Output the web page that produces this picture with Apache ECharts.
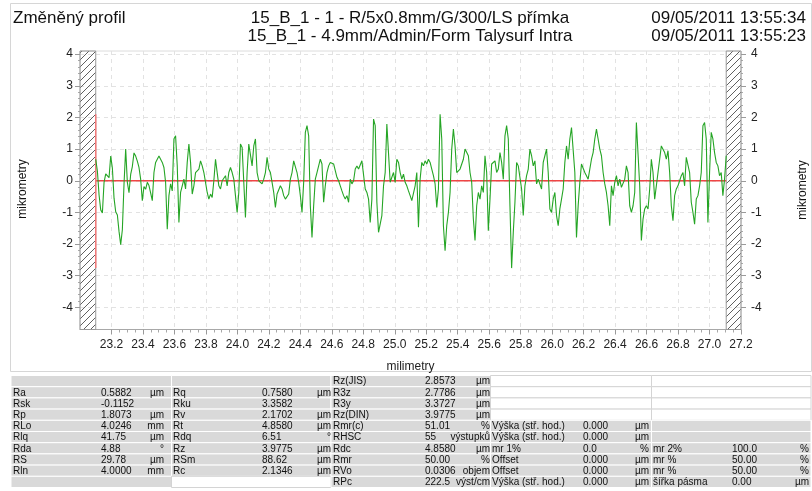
<!DOCTYPE html>
<html>
<head>
<meta charset="utf-8">
<title>Změněný profil</title>
<script src="https://cdn.jsdelivr.net/npm/echarts@6/dist/echarts.min.js"></script>
<style>
  html, body { margin: 0; padding: 0; background: #fff; }
  #chart { width: 812px; height: 491px; }
</style>
</head>
<body>
<div id="chart"></div>
<script>
// ---- Header ----
const headerLeft = 'Změněný profil';
const headerTitles = ['15_B_1 - 1 - R/5x0.8mm/G/300/LS přímka', '15_B_1 - 4.9mm/Admin/Form Talysurf Intra'];
const headerDates = ['09/05/2011 13:55:34', '09/05/2011 13:55:23'];

// ---- Axes ----
const xName = 'milimetry';
const yName = 'mikrometry';
const xRange = [23.0, 27.2];      // evaluated length incl. hatched run-in / run-out
const xLabelRange = [23.2, 27.2]; // labelled part of the x axis
const xStep = 0.2;
const yRange = [-4.7, 4.1];
const yLabelRange = [-4, 4];
const yStep = 1;

// ---- Profile (µm), sampled every PROFILE_STEP mm from PROFILE_START ----
const PROFILE_START = 23.1;
const PROFILE_STEP = 0.01057;
const profileFirstHalf = [
  0.68, 0.30, -0.45, -0.92, -1.02, -0.05, 0.22, 0.26, 0.10, 0.78,
  0.40, -0.55, -0.98, -1.08, -1.60, -2.02, -1.55, -0.10, 1.00, -0.05,
  -0.38, 0.20, 0.45, 0.88, 0.78, 0.62, 0.42, 0.05, -0.63, -0.18,
  -0.27, -0.05, -0.15, -0.38, -0.63, 0.26, 0.58, 0.68, 0.78, 0.84,
  0.58, 0.42, -0.05, -1.53, -0.47, -0.10, -0.32, 1.32, 1.42, 0.47,
  -1.32, -0.37, -0.16, 0.05, -0.26, 0.58, 1.16, 0.58, -0.42, -0.16,
  0.26, 0.32, 0.37, 0.63, 0.47, 0.26, -0.05, -0.37, -0.58, -0.42,
  -0.53, 0.00, 0.68, 0.70, -0.16, -0.26, 0.00, 0.05, 0.16, -0.16,
  0.26, 0.42, 0.26, 0.05, 0.00, -1.00, -0.37, 1.16, 1.05, -0.05,
  -1.16, 0.26, 1.16, 1.10, 0.47, 1.10, 1.32, 0.26, 0.00, -0.05,
  -0.10, 0.05, 0.26, 0.74, 0.37, 0.26, -0.05, -0.37, -0.84, -0.42,
  -0.47, -0.16, -0.26, -0.47, -0.58, -0.53, -0.42, 0.05, 0.26, 0.63,
  0.68, 0.26, -0.05, -0.47, -1.00, -0.05, 1.53, 1.74, 1.42, -0.79,
  -1.79, -0.79, 0.05, 0.26, 0.47, 0.68, 0.53, -0.68, -0.16, 0.26,
  0.47, 0.58, 0.63, 0.53, 0.32, 0.11, 0.00, -0.16, -0.32, -0.47,
  -0.58, -0.47, -0.68, 0.05, -0.10, 0.00, 0.37, 0.47, 0.37, 0.37,
  0.63, 0.68, -0.26, -0.37, -0.58, -1.32, -0.58, 1.95, 1.74, -0.68,
  -1.63, -1.58, -1.10, -0.16, 0.26, 1.79, 1.74, -0.05, 0.11, 0.26,
  -0.05, 0.68, 0.58, 0.26, 0.05, 0.21, -0.05, -0.16, -0.32, -0.47,
  -0.63, -0.63
];
const profileSecondHalf = [
  -0.16, 0.26, -1.47, 0.05, 0.58, 0.47, 0.63, 0.53, 0.68, 0.58,
  0.37, 0.16, -0.10, -0.84, -0.26, 2.10, 1.32, -1.42, -2.21, -1.42,
  -1.00, -0.37, 1.00, 1.63, 1.10, 0.26, 0.21, 0.37, 0.37, 0.68,
  1.00, 1.00, 0.79, 0.26, -0.05, -1.21, -1.89, -0.79, -0.37, -0.58,
  -0.16, -0.37, 0.79, 0.26, -1.58, -0.58, 0.53, 0.53, 0.63, 0.26,
  0.37, 0.89, 0.58, 0.05, 1.42, 1.74, 1.32, -0.79, -2.76, -1.63,
  -0.68, 0.58, 0.47, 0.42, -0.26, -1.10, -0.16, 0.16, 0.37, 1.00,
  0.79, 0.47, 0.63, -0.10, 0.05, 0.00, -0.26, 0.58, 0.79, 1.00,
  0.26, -0.89, -1.00, -0.58, -0.37, -1.10, -1.42, -0.89, -0.58, -0.26,
  0.58, 1.10, 0.68, 1.32, 1.68, 1.63, 0.26, -1.79, -0.79, -0.05,
  0.53, 0.47, 0.26, 0.16, 0.05, 0.00, 0.68, 0.89, 1.32, 1.63,
  1.32, 1.00, 0.79, 0.26, -0.10, -0.37, -0.79, -1.42, -0.16, -0.47,
  -0.05, 0.16, -0.16, 0.05, -0.21, -0.26, 0.05, 0.47, 0.26, -0.79,
  -1.00, -0.79, -0.37, 1.84, 1.89, -0.16, -1.89, -1.21, -0.89, -0.79,
  -0.89, -0.26, 0.68, 0.26, -0.58, -0.58, 0.26, 0.68, 1.10, 1.10,
  0.89, 0.68, 0.95, 0.26, -0.79, -1.26, -0.47, -0.26, -0.16, 0.00,
  0.16, 0.26, -0.16, 0.74, 0.68, 0.26, -0.68, -1.00, -1.37, -0.58,
  -0.47, -0.16, 0.26, 1.74, 1.84, 1.32, -1.32, 0.26, 1.53, 1.32,
  0.89, 0.58, 0.47, 0.16, 0.26, -0.47, 0.05, 0.79
];

// ---- Parameter table (label, value, unit); null = blank white cell, [] = blank grey cell ----
const tableColA = [
  [], ['Ra', '0.5882', 'µm'], ['Rsk', '-0.1152', ''], ['Rp', '1.8073', 'µm'], ['RLo', '4.0246', 'mm'],
  ['Rlq', '41.75', 'µm'], ['Rda', '4.88', '°'], ['RS', '29.78', 'µm'], ['Rln', '4.0000', 'mm'], []
];
const tableColB = [
  [], ['Rq', '0.7580', 'µm'], ['Rku', '3.3582', ''], ['Rv', '2.1702', 'µm'], ['Rt', '4.8580', 'µm'],
  ['Rdq', '6.51', '°'], ['Rz', '3.9775', 'µm'], ['RSm', '88.62', 'µm'], ['Rc', '2.1346', 'µm'], null
];
const tableColC = [
  ['Rz(JIS)', '2.8573', 'µm'], ['R3z', '2.7786', 'µm'], ['R3y', '3.3727', 'µm'], ['Rz(DIN)', '3.9775', 'µm'],
  ['Rmr(c)', '51.01', '%'], ['RHSC', '55', 'výstupků'], ['Rdc', '4.8580', 'µm'], ['Rmr', '50.00', '%'],
  ['RVo', '0.0306', 'objem'], ['RPc', '222.5', 'výst/cm']
];
const tableColD = [
  null, null, null, null,
  ['Výška (stř. hod.)', '0.000', 'µm'], ['Výška (stř. hod.)', '0.000', 'µm'], ['mr 1%', '0.0', '%'],
  ['Offset', '0.000', 'µm'], ['Offset', '0.000', 'µm'], ['Výška (stř. hod.)', '0.000', 'µm']
];
const tableColE = [
  null, null, null, null, [], [],
  ['mr 2%', '100.0', '%'], ['mr %', '50.00', '%'], ['mr %', '50.00', '%'], ['šířka pásma', '0.00', 'µm']
];

// ---------------------------------------------------------------------------
const FONT = '"Liberation Sans", Arial, Helvetica, sans-serif';

const profile = profileFirstHalf.concat(profileSecondHalf);
const profileData = profile.map((v, i) => [PROFILE_START + i * PROFILE_STEP, v]);
const xFirst = profileData[0][0];
const xLast = profileData[profileData.length - 1][0];
const yMax = Math.max.apply(null, profile);
const yMin = Math.min.apply(null, profile);

// diagonal hatch used for the excluded ends of the trace
function hatchCanvas() {
  const s = 7;
  const c = document.createElement('canvas');
  c.width = s; c.height = s;
  const g = c.getContext('2d');
  g.strokeStyle = '#606060';
  g.lineWidth = 1;
  g.beginPath();
  g.moveTo(-1, s + 1); g.lineTo(s + 1, -1);
  g.moveTo(-1, 1); g.lineTo(1, -1);
  g.moveTo(s - 1, s + 1); g.lineTo(s + 1, s - 1);
  g.stroke();
  return c;
}
const hatchFill = { image: hatchCanvas(), repeat: 'repeat' };

// plot geometry
const G = { left: 80, right: 71, top: 51, bottom: 161.5 };
const plotW = 812 - G.left - G.right;
const plotH = 491 - G.top - G.bottom;
const pxPerMm = plotW / (xRange[1] - xRange[0]);
const pxPerUm = plotH / (yRange[1] - yRange[0]);

const gridLine = { show: true, lineStyle: { color: '#e2e2e2', type: [4, 4], width: 1 } };
const tickText = { fontFamily: FONT, fontSize: 12, color: '#222' };

// ---- table graphics ----
const tableCols = [
  { data: tableColA, x: 11, w: 160.5, lx: 13, vx: 101, ux: 164 },
  { data: tableColB, x: 171.5, w: 159.5, lx: 173, vx: 262, ux: 331 },
  { data: tableColC, x: 331, w: 159.5, lx: 333, vx: 425, ux: 490 },
  { data: tableColD, x: 490.5, w: 161, lx: 492, vx: 583, ux: 649 },
  { data: tableColE, x: 651.5, w: 159.5, lx: 653, vx: 732, ux: 809 }
];
const TABLE_TOP = 375.5;
const ROW_H = 11.2;
const tableElements = [];
tableCols.forEach(col => {
  col.data.forEach((cell, r) => {
    const y = TABLE_TOP + r * ROW_H;
    const grey = cell !== null;
    tableElements.push({
      type: 'rect', silent: true, z: 1,
      shape: { x: col.x, y: y, width: col.w, height: ROW_H },
      style: grey ? { fill: '#d9d9d9', stroke: '#ffffff', lineWidth: 1 }
                  : { fill: '#ffffff', stroke: '#d4d4d4', lineWidth: 1 }
    });
    if (cell && cell.length) {
      const cy = y + ROW_H / 2 + 0.5;
      const parts = [[cell[0], col.lx, 'left'], [cell[1], col.vx, 'left'], [cell[2], col.ux, 'right']];
      parts.forEach(p => {
        if (!p[0]) return;
        tableElements.push({
          type: 'text', silent: true, z: 2, x: p[1], y: cy,
          style: { text: p[0], font: '10px ' + FONT, fill: '#111',
                   textAlign: p[2], textVerticalAlign: 'middle', align: p[2], verticalAlign: 'middle' }
        });
      });
    }
  });
});

function label(text, x, y, align, size, rot) {
  return {
    type: 'text', silent: true, z: 3, x: x, y: y, rotation: rot || 0,
    style: { text: text, font: size + 'px ' + FONT, fill: '#111',
             textAlign: align, textVerticalAlign: 'middle', align: align, verticalAlign: 'middle' }
  };
}

const headerElements = [
  { type: 'rect', silent: true, z: 0, shape: { x: 10.5, y: 3.5, width: 801, height: 368 },
    style: { fill: 'none', stroke: '#d6d6d6', lineWidth: 1 } },
  label(headerLeft, 13, 18, 'left', 17),
  label(headerTitles[0], 410, 18, 'center', 17),
  label(headerTitles[1], 410, 36, 'center', 17),
  label(headerDates[0], 806, 18, 'right', 17),
  label(headerDates[1], 806, 36, 'right', 17),
  label(yName, 23, 189, 'center', 12, Math.PI / 2),
  label(yName, 803, 190, 'center', 12, Math.PI / 2)
];

const refLine = (data, color, width) => ({
  type: 'line', xAxisIndex: 0, yAxisIndex: 0, data: data,
  showSymbol: false, symbol: 'none', silent: true, z: 2,
  lineStyle: { color: color, width: width }
});

const chart = echarts.init(document.getElementById('chart'), null, { renderer: 'canvas' });
chart.setOption({
  animation: false,
  backgroundColor: '#ffffff',
  grid: [
    // main plot area
    { left: G.left, right: G.right, top: G.top, bottom: G.bottom, show: true, borderColor: '#dcdcdc', borderWidth: 1 },
    // labelled x scale
    { left: G.left + (xLabelRange[0] - xRange[0]) * pxPerMm, right: G.right, top: G.top, bottom: G.bottom },
    // labelled y scale
    { left: G.left, right: G.right,
      top: G.top + (yRange[1] - yLabelRange[1]) * pxPerUm,
      bottom: G.bottom + (yLabelRange[0] - yRange[0]) * pxPerUm }
  ],
  xAxis: [
    { gridIndex: 0, type: 'value', min: xRange[0], max: xRange[1], interval: xStep,
      axisLine: { show: true, onZero: false, lineStyle: { color: '#a8a8a8' } },
      axisTick: { show: false }, axisLabel: { show: false },
      splitLine: gridLine,
      name: xName, nameLocation: 'middle', nameGap: 31,
      nameTextStyle: { fontFamily: FONT, fontSize: 12, color: '#222' } },
    { gridIndex: 1, type: 'value', min: xLabelRange[0], max: xLabelRange[1], interval: xStep,
      axisLine: { show: false, onZero: false },
      axisTick: { show: true, length: 5, lineStyle: { color: '#9a9a9a' } },
      minorTick: { show: true, splitNumber: 4, length: 3, lineStyle: { color: '#a8a8a8' } },
      axisLabel: Object.assign({ margin: 9, formatter: v => v.toFixed(1) }, tickText),
      splitLine: { show: false } },
    { gridIndex: 2, type: 'value', min: xRange[0], max: xRange[1],
      axisLine: { show: false }, axisTick: { show: false }, axisLabel: { show: false }, splitLine: { show: false } }
  ],
  yAxis: [
    { gridIndex: 0, type: 'value', min: yRange[0], max: yRange[1],
      axisLine: { show: false }, axisTick: { show: false }, axisLabel: { show: false },
      splitLine: { show: false } },
    { gridIndex: 1, type: 'value', min: yRange[0], max: yRange[1],
      axisLine: { show: false }, axisTick: { show: false }, axisLabel: { show: false },
      splitLine: { show: false } },
    { gridIndex: 2, type: 'value', position: 'left', min: yLabelRange[0], max: yLabelRange[1], interval: yStep,
      axisLine: { show: false, onZero: false },
      axisTick: { show: true, length: 5, lineStyle: { color: '#9a9a9a' } },
      minorTick: { show: true, splitNumber: 5, length: 2, lineStyle: { color: '#a8a8a8' } },
      axisLabel: Object.assign({ margin: 7 }, tickText),
      splitLine: gridLine },
    { gridIndex: 2, type: 'value', position: 'right', min: yLabelRange[0], max: yLabelRange[1], interval: yStep,
      axisLine: { show: false, onZero: false },
      axisTick: { show: true, length: 5, lineStyle: { color: '#9a9a9a' } },
      minorTick: { show: true, splitNumber: 5, length: 2, lineStyle: { color: '#a8a8a8' } },
      axisLabel: Object.assign({ margin: 10 }, tickText),
      splitLine: { show: false } }
  ],
  series: [
    {
      type: 'line',
      xAxisIndex: 0, yAxisIndex: 0,
      data: profileData,
      showSymbol: false, symbol: 'none',
      lineStyle: { color: '#25a525', width: 1.1 },
      z: 3,
      markArea: {
        silent: true,
        itemStyle: { color: hatchFill, borderColor: '#9a9a9a', borderWidth: 1 },
        data: [
          [{ coord: [xRange[0], yRange[0]] }, { coord: [xFirst, yRange[1]] }],
          [{ coord: [xLast, yRange[0]] }, { coord: [xRange[1], yRange[1]] }]
        ]
      }
    },
    // mean line through the evaluated length
    refLine([[xFirst, 0], [xLast, 0]], '#ef4545', 1.3),
    // peak-to-valley extent of the profile
    refLine([[xFirst, yMin], [xFirst, yMax]], '#f27a7a', 1.5)
  ],
  graphic: { elements: headerElements.concat(tableElements) }
});
</script>
</body>
</html>
